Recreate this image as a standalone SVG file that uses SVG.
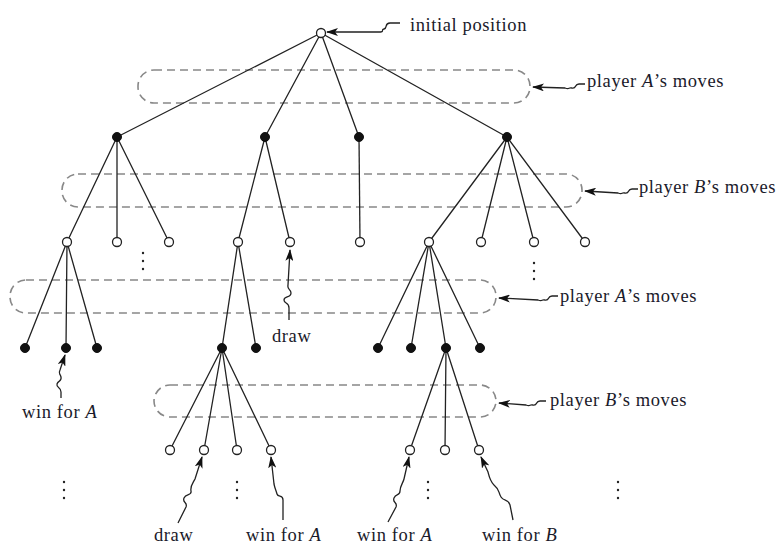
<svg xmlns="http://www.w3.org/2000/svg" width="781" height="547" viewBox="0 0 781 547">
<defs>
<marker id="ah" viewBox="0 0 12 8" refX="11" refY="4" markerWidth="12" markerHeight="8" markerUnits="userSpaceOnUse" orient="auto">
<path d="M0,0 L12,4 L0,8 L3,4 z" fill="#111"/>
</marker>
<style>
.e{stroke:#222;stroke-width:1.3;fill:none}
.o{fill:#fff;stroke:#222;stroke-width:1.3}
.f{fill:#111;stroke:#111;stroke-width:1}
.g{fill:none;stroke:#888;stroke-width:1.6;stroke-dasharray:8 5}
.a{fill:none;stroke:#222;stroke-width:1.3;marker-end:url(#ah)}
.t{font-family:"Liberation Serif","Times New Roman",serif;font-size:18.5px;letter-spacing:0.6px;fill:#1a1a2a}
.d{fill:#222}
</style>
</defs>
<rect width="781" height="547" fill="#fff"/>
<g id="groups">
<rect class="g" x="138" y="70" width="392" height="33" rx="16"/>
<rect class="g" x="62" y="174" width="520" height="33" rx="16"/>
<rect class="g" x="10" y="280" width="486" height="33" rx="16"/>
<rect class="g" x="154" y="385" width="342" height="32" rx="16"/>
</g>
<g id="connectors">
<path class="e" d="M321,33 L117,137 M321,33 L265,137 M321,33 L359,137 M321,33 L507,137"/>
<path class="e" d="M117,137 L67,242 M117,137 L117,242 M117,137 L169,242"/>
<path class="e" d="M265,137 L238,242 M265,137 L290,242"/>
<path class="e" d="M359,137 L360,242"/>
<path class="e" d="M507,137 L429,242 M507,137 L481,242 M507,137 L534,242 M507,137 L585,242"/>
<path class="e" d="M67,242 L25,348 M67,242 L66,348 M67,242 L97,348"/>
<path class="e" d="M238,242 L222,348 M238,242 L256,348"/>
<path class="e" d="M429,242 L378,348 M429,242 L411,348 M429,242 L446,348 M429,242 L480,348"/>
<path class="e" d="M222,348 L170,450 M222,348 L204,450 M222,348 L237,450 M222,348 L271,450"/>
<path class="e" d="M446,348 L410,450 M446,348 L445,450 M446,348 L479,450"/>
</g>
<g id="n0"><circle class="o" cx="321" cy="33" r="4.5"/></g>
<g id="n1"><circle class="f" cx="117" cy="137" r="4.5"/></g>
<g id="n2"><circle class="f" cx="265" cy="137" r="4.5"/></g>
<g id="n3"><circle class="f" cx="359" cy="137" r="4.5"/></g>
<g id="n4"><circle class="f" cx="507" cy="137" r="4.5"/></g>
<g id="n5"><circle class="o" cx="67" cy="242" r="4.5"/></g>
<g id="n6"><circle class="o" cx="117" cy="242" r="4.5"/></g>
<g id="n7"><circle class="o" cx="169" cy="242" r="4.5"/></g>
<g id="n8"><circle class="o" cx="238" cy="242" r="4.5"/></g>
<g id="n9"><circle class="o" cx="290" cy="242" r="4.5"/></g>
<g id="n10"><circle class="o" cx="360" cy="242" r="4.5"/></g>
<g id="n11"><circle class="o" cx="429" cy="242" r="4.5"/></g>
<g id="n12"><circle class="o" cx="481" cy="242" r="4.5"/></g>
<g id="n13"><circle class="o" cx="534" cy="242" r="4.5"/></g>
<g id="n14"><circle class="o" cx="585" cy="242" r="4.5"/></g>
<g id="n15"><circle class="f" cx="25" cy="348" r="4.5"/></g>
<g id="n16"><circle class="f" cx="66" cy="348" r="4.5"/></g>
<g id="n17"><circle class="f" cx="97" cy="348" r="4.5"/></g>
<g id="n18"><circle class="f" cx="222" cy="348" r="4.5"/></g>
<g id="n19"><circle class="f" cx="256" cy="348" r="4.5"/></g>
<g id="n20"><circle class="f" cx="378" cy="348" r="4.5"/></g>
<g id="n21"><circle class="f" cx="411" cy="348" r="4.5"/></g>
<g id="n22"><circle class="f" cx="446" cy="348" r="4.5"/></g>
<g id="n23"><circle class="f" cx="480" cy="348" r="4.5"/></g>
<g id="n24"><circle class="o" cx="170" cy="450" r="4.5"/></g>
<g id="n25"><circle class="o" cx="204" cy="450" r="4.5"/></g>
<g id="n26"><circle class="o" cx="237" cy="450" r="4.5"/></g>
<g id="n27"><circle class="o" cx="271" cy="450" r="4.5"/></g>
<g id="n28"><circle class="o" cx="410" cy="450" r="4.5"/></g>
<g id="n29"><circle class="o" cx="445" cy="450" r="4.5"/></g>
<g id="n30"><circle class="o" cx="479" cy="450" r="4.5"/></g>
<g id="dots">
<circle class="d" cx="143" cy="253" r="1.2"/><circle class="d" cx="143" cy="261" r="1.2"/><circle class="d" cx="143" cy="269" r="1.2"/>
<circle class="d" cx="534" cy="263" r="1.2"/><circle class="d" cx="534" cy="271" r="1.2"/><circle class="d" cx="534" cy="279" r="1.2"/>
<circle class="d" cx="64" cy="482" r="1.2"/><circle class="d" cx="64" cy="490" r="1.2"/><circle class="d" cx="64" cy="498" r="1.2"/>
<circle class="d" cx="237" cy="482" r="1.2"/><circle class="d" cx="237" cy="490" r="1.2"/><circle class="d" cx="237" cy="498" r="1.2"/>
<circle class="d" cx="428" cy="482" r="1.2"/><circle class="d" cx="428" cy="490" r="1.2"/><circle class="d" cx="428" cy="498" r="1.2"/>
<circle class="d" cx="618" cy="482" r="1.2"/><circle class="d" cx="618" cy="490" r="1.2"/><circle class="d" cx="618" cy="498" r="1.2"/>
</g>
<g id="labels">
<path class="a" d="M400,23 L390,23 C384,23 388,28 384,29 C380,30 386,32 378,32 L327,32"/>
<text class="t" x="410" y="31">initial position</text>
<path class="a" d="M585,84 L579,84 C574,84 577,89 572,88 C568,87 570,90 565,88 L533,87"/>
<text class="t" x="587" y="87">player <tspan font-style="italic">A</tspan>’s moves</text>
<path class="a" d="M638,189 L632,189 C627,189 630,194 625,193 C621,192 623,195 618,193 L585,191"/>
<text class="t" x="639" y="193">player <tspan font-style="italic">B</tspan>’s moves</text>
<path class="a" d="M558,296 L552,296 C547,296 550,301 545,300 C541,299 543,302 538,300 L499,298"/>
<text class="t" x="560" y="302">player <tspan font-style="italic">A</tspan>’s moves</text>
<path class="a" d="M546,401 L540,401 C535,401 538,406 533,405 C529,404 531,407 526,405 L499,403"/>
<text class="t" x="550" y="406">player <tspan font-style="italic">B</tspan>’s moves</text>
<path class="a" d="M289,320 L289,308 C289,302 284,304 284,300 C284,296 291,298 291,293 C291,289 287,290 288,285 L290,250"/>
<text class="t" x="272" y="342">draw</text>
<path class="a" d="M61,398 L61,392 C61,387 56,388 57,384 C58,380 62,382 61,377 C60,373 58,374 60,370 L65,355"/>
<text class="t" x="22" y="418">win for <tspan font-style="italic">A</tspan></text>
<path class="a" d="M178,523 L186,507 C188,502 182,503 184,498 C186,493 192,496 191,491 C190,486 193,483 195,479 L202,457"/>
<text class="t" x="154" y="541">draw</text>
<path class="a" d="M283,520 L283,500 C283,494 278,498 277,494 C276,490 275,489 274,484 L271,457"/>
<text class="t" x="246" y="541">win for <tspan font-style="italic">A</tspan></text>
<path class="a" d="M388,522 L396,507 C398,502 392,503 394,498 C396,493 400,496 400,491 C400,486 403,483 404,479 L409,457"/>
<text class="t" x="357" y="541">win for <tspan font-style="italic">A</tspan></text>
<path class="a" d="M513,520 L510,505 C508,498 504,502 501,497 C498,492 500,490 494,485 C490,481 489,476 488,472 L481,457"/>
<text class="t" x="482" y="541">win for <tspan font-style="italic">B</tspan></text>
</g>
</svg>
